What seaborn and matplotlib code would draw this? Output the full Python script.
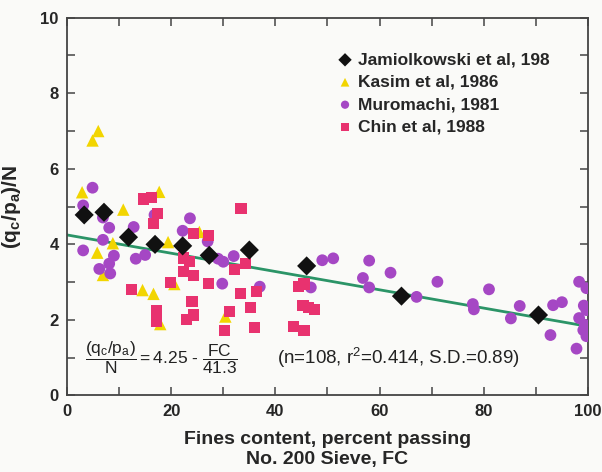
import numpy as np
import pandas as pd
import matplotlib
matplotlib.use("Agg")
import matplotlib.pyplot as plt
import seaborn as sns

# Fines content (FC, %) and normalised cone resistance ratio (qc/pa)/N per source
jam_fc = [3.3, 7.1, 11.8, 16.9, 22.2, 27.3, 35.0, 46.0, 64.2, 90.5]
jam_q = [4.78, 4.85, 4.19, 4.00, 3.96, 3.71, 3.85, 3.43, 2.63, 2.13]

kas_fc = [6.0, 4.9, 2.9, 17.7, 10.8, 25.4, 19.4, 8.8, 5.8, 6.9, 14.5, 16.6, 20.6, 17.9, 30.4]
kas_q = [7.00, 6.75, 5.38, 5.39, 4.92, 4.33, 4.06, 4.03, 3.78, 3.19, 2.79, 2.69, 2.95, 1.89, 2.09]

mur_fc = [4.9, 3.1, 6.9, 8.1, 12.8, 6.9, 3.1, 9.0, 6.2, 8.1, 8.3, 13.2, 15.0, 16.8,
          23.6, 22.2, 27.0, 29.0, 30.0, 32.0, 29.8, 37.0, 46.8, 49.0, 51.1, 58.0,
          56.8, 58.0, 62.1, 67.1, 71.1, 77.9, 78.1, 81.0, 86.9, 85.2, 92.8, 93.3,
          95.0, 97.8, 98.3, 99.7, 99.2, 99.7, 98.3, 99.4, 99.1, 99.7]
mur_q = [5.50, 5.03, 4.71, 4.44, 4.46, 4.12, 3.84, 3.70, 3.35, 3.49, 3.23, 3.62, 3.72, 4.78,
         4.69, 4.36, 4.08, 3.62, 3.54, 3.69, 2.96, 2.88, 2.86, 3.58, 3.63, 3.57,
         3.11, 2.86, 3.25, 2.61, 3.01, 2.42, 2.28, 2.81, 2.37, 2.04, 1.60, 2.39,
         2.47, 1.24, 3.01, 2.84, 2.38, 2.26, 2.05, 1.87, 1.73, 1.57]

chi_fc = [14.6, 16.3, 17.3, 16.6, 24.2, 27.1, 33.4, 22.3, 23.5, 22.3, 24.2, 27.1,
          19.8, 12.4, 17.2, 17.2, 24.0, 24.2, 23.0, 31.2, 30.3, 32.2, 34.2, 33.3,
          36.3, 35.3, 36.0, 44.4, 45.5, 45.3, 46.3, 47.5, 43.4, 45.5]
chi_q = [5.20, 5.25, 4.82, 4.56, 4.29, 4.23, 4.96, 3.64, 3.54, 3.29, 3.17, 2.97,
         2.98, 2.81, 2.26, 1.95, 2.48, 2.13, 2.00, 2.22, 1.73, 3.34, 3.50, 2.70,
         2.76, 2.33, 1.81, 2.88, 2.95, 2.39, 2.34, 2.27, 1.83, 1.72]

# Regression: (qc/pa)/N = 4.25 - FC/41.3
fit_a, fit_b = 4.25, 41.3
fit_fc = [0.0, 98.3]

x_ticks = [0, 20, 40, 60, 80, 100]
y_ticks = [0, 2, 4, 6, 8, 10]

sns.set_style("ticks")
plt.rcParams["font.family"] = ["Liberation Sans", "DejaVu Sans"]
plt.rcParams["mathtext.fontset"] = "custom"
plt.rcParams["mathtext.rm"] = "Liberation Sans"
plt.rcParams["mathtext.it"] = "Liberation Sans"
plt.rcParams["mathtext.bf"] = "Liberation Sans:bold"

bg = "#fafaf8"
fig = plt.figure(figsize=(6.02, 4.72), dpi=100, facecolor=bg)
ax = fig.add_axes([0.1113, 0.1621, 0.8654, 0.8004], facecolor=bg)

fit_df = pd.DataFrame({"fc": fit_fc})
fit_df["q"] = fit_a - fit_df["fc"] / fit_b
sns.lineplot(data=fit_df, x="fc", y="q", ax=ax, color="#2b9467", lw=2.0, zorder=2)

series = [
    (jam_fc, jam_q, "Jamiolkowski et al, 198", "D", "#111111", 95),
    (kas_fc, kas_q, "Kasim et al, 1986", "^", "#f2d500", 80),
    (mur_fc, mur_q, "Muromachi, 1981", "o", "#a547c4", 72),
    (chi_fc, chi_q, "Chin et al, 1988", "s", "#e8326f", 64),
]
order = [1, 2, 3, 0]
for i in order:
    fc, q, lab, mk, col, sz = series[i]
    sns.scatterplot(x=fc, y=q, ax=ax, marker=mk, color=col, s=sz,
                    edgecolor="none", linewidth=0, label=lab, zorder=3 + (i == 0) * 2)

handles, labels = ax.get_legend_handles_labels()
lookup = dict(zip(labels, handles))
names = [s[2] for s in series]
leg = ax.legend([lookup[n] for n in names], names, loc="upper left",
                bbox_to_anchor=(0.487, 0.95), frameon=False,
                prop={"weight": "bold", "size": 12.5}, handletextpad=0.25,
                labelspacing=0.42, markerscale=0.7, handlelength=1.0)

ax.set_xlim(0, 100)
ax.set_ylim(0, 10)
ax.set_xticks(x_ticks)
ax.set_xticks(np.arange(0, 101, 10), minor=True)
ax.set_yticks(y_ticks)
ax.set_yticks(np.arange(0, 11, 1), minor=True)
ax.tick_params(axis="both", which="both", direction="in", top=True, right=True,
               length=6, width=1.1, color="#444444")
ax.tick_params(axis="both", which="major", labelsize=12, pad=6)
for t in ax.get_xticklabels() + ax.get_yticklabels():
    t.set_fontweight("bold")
for sp in ax.spines.values():
    sp.set_visible(True)
    sp.set_linewidth(1.3)
    sp.set_color("#444444")

ax.set_xlabel("Fines content, percent passing\nNo. 200 Sieve, FC",
              fontsize=14, fontweight="bold", labelpad=9, linespacing=1.2)
ax.set_ylabel(r"(q$_\mathbf{c}$/p$_\mathbf{a}$)/N", fontsize=15,
              fontweight="bold", labelpad=8)
ax.yaxis.set_label_coords(-0.085, 0.50)

ax.text(3.5, 1.0, r"$\dfrac{(\mathrm{q_c/p_a})}{\mathrm{N}} = 4.25\ \text{-}\ \dfrac{\mathrm{FC}}{41.3}$",
        fontsize=12.5, va="center", ha="left", color="#222222")
ax.text(40.3, 1.0, r"(n=108, r$^2$=0.414, S.D.=0.89)",
        fontsize=13.5, va="center", ha="left", color="#222222")

fig.savefig("out.png", dpi=100, facecolor=bg)
